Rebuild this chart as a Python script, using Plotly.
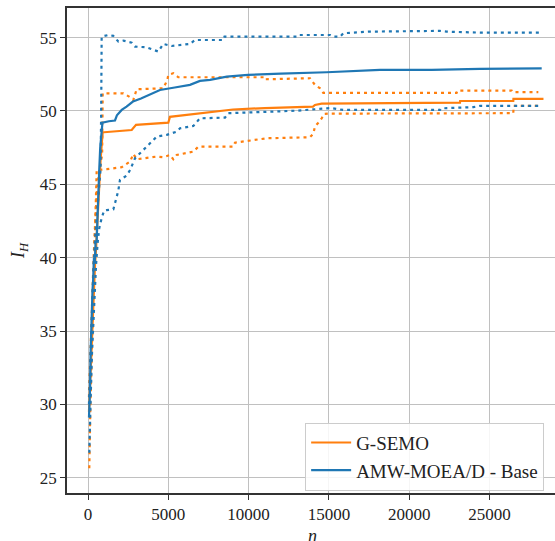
import plotly.graph_objects as go

# ---------------- data ----------------
gsemo_mean_x = [60, 100, 150, 200, 260, 320, 380, 440, 500, 560, 620, 700, 780, 860, 915,
                1000, 2720, 2990, 5000, 5100, 7600, 9030, 11000, 13820, 14010, 14130, 14550,
                23160, 23170, 26480, 26490, 28360]
gsemo_mean_y = [29.5, 30.6, 32.2, 34.0, 35.4, 37.0, 38.4, 39.6, 40.6, 42.0, 43.4, 45.0, 46.6, 47.8, 48.55,
                48.55, 48.7, 49.05, 49.2, 49.6, 49.9, 50.1, 50.2, 50.26, 50.3, 50.41, 50.5,
                50.57, 50.68, 50.68, 50.82, 50.82]

gsemo_max_x = [60, 150, 250, 350, 450, 550, 700, 880, 915, 2200, 2620, 2820, 3030, 4690, 4940,
               5000, 5310, 5620, 11000, 11020, 13820, 14130, 14450, 14650, 22950, 23000,
               26380, 26450, 28040]
gsemo_max_y = [30.5, 34.0, 37.5, 40.0, 42.5, 44.5, 46.0, 47.0, 51.2, 51.2, 50.94, 50.75, 51.48, 51.55, 52.12,
               52.46, 52.57, 52.3, 52.3, 52.16, 52.23, 51.78, 51.55, 51.23, 51.23, 51.39,
               51.39, 51.28, 51.28]

gsemo_min_x = [80, 100, 150, 200, 260, 320, 380, 440, 500, 540, 1160, 2100, 2620, 2820, 3030,
               4280, 4690, 5100, 5310, 5520, 6560, 6870, 9050, 9150, 11130, 13820, 14030,
               14130, 14340, 14550, 14700, 15000, 26480, 26500, 28040]
gsemo_min_y = [25.65, 27.6, 30.0, 32.0, 34.5, 36.5, 38.5, 40.5, 43.0, 45.98, 46.03, 46.17, 46.55, 47.07, 46.71,
               46.89, 46.85, 47.0, 46.71, 47.0, 47.23, 47.57, 47.57, 47.84, 48.14, 48.21, 48.45,
               48.93, 49.2, 49.5, 49.8, 49.82, 49.85, 50.35, 50.35]

amw_mean_x = [60, 100, 125, 160, 190, 230, 280, 320, 370, 420, 470, 540, 580, 640, 700, 760, 850,
              900, 1300, 1680, 1800, 2100, 2400, 2800, 3300, 3860, 4480, 5400, 6350, 6970, 7600,
              8640, 9960, 12000, 14860, 18180, 21400, 24400, 28250]
amw_mean_y = [29.1, 29.8, 31.0, 33.5, 35.0, 36.5, 37.8, 38.5, 40.0, 39.6, 41.0, 41.2, 42.8, 45.1, 46.0, 47.5, 48.7,
              49.2, 49.3, 49.35, 49.7, 50.07, 50.3, 50.64, 50.85, 51.1, 51.43, 51.6, 51.78, 52.05, 52.12,
              52.34, 52.46, 52.55, 52.64, 52.8, 52.8, 52.87, 52.91]

amw_max_x = [60, 150, 250, 350, 450, 550, 650, 780, 820, 850, 1265, 1575, 1890, 2200, 2720, 2930,
             3650, 3970, 4380, 4690, 5210, 6350, 6660, 8430, 8500, 13000, 13100, 15070, 15260,
             15700, 15900, 17500, 21920, 22330, 24410, 28140]
amw_max_y = [30.0, 33.5, 36.5, 39.5, 41.5, 43.0, 44.5, 46.0, 50.0, 55.07, 55.18, 55.12, 54.73, 54.8, 54.66, 54.39,
             54.34, 54.2, 54.05, 54.57, 54.43, 54.57, 54.84, 54.84, 55.07, 55.07, 55.18, 55.18, 55.07,
             55.07, 55.3, 55.41, 55.46, 55.41, 55.34, 55.34]

amw_min_x = [80, 120, 180, 250, 330, 420, 500, 600, 700, 850, 1000, 1160, 1580, 1790, 1890, 1990,
             2410, 2620, 2930, 3130, 3750, 4280, 4900, 5520, 5730, 6560, 6970, 8530, 8740, 13000,
             14860, 15100, 15900, 21920, 22000, 24000, 24410, 28140]
amw_min_y = [26.7, 29.0, 31.0, 33.5, 35.5, 37.5, 39.5, 41.0, 42.0, 42.7, 43.2, 43.24, 43.3, 44.16, 44.6, 45.3,
             45.6, 45.98, 46.78, 47.0, 47.69, 48.25, 48.37, 48.59, 48.82, 48.98, 49.5, 49.55, 49.85, 50.02,
             50.18, 50.2, 50.07, 50.07, 50.18, 50.26, 50.35, 50.35]

x_ticks = [0, 5000, 10000, 15000, 20000, 25000]
y_ticks = [25, 30, 35, 40, 45, 50, 55]
series_names = ["G-SEMO", "AMW-MOEA/D - Base"]
x_label = "<i>n</i>"
y_label = "<i>I</i><sub><i>H</i></sub>"

# ---------------- styling ----------------
ORANGE = "#ff7f0e"
BLUE = "#1f77b4"
FONT = "Liberation Serif"
DOT = "3px,4px"

fig = go.Figure()

def add(x, y, color, dash, name=None, legend=False):
    fig.add_trace(go.Scatter(
        x=x, y=y, mode="lines", name=name, showlegend=legend,
        line=dict(color=color, width=2.2, dash=dash),
        hoverinfo="skip",
    ))

add(gsemo_mean_x, gsemo_mean_y, ORANGE, "solid", series_names[0], True)
add(gsemo_max_x, gsemo_max_y, ORANGE, DOT)
add(gsemo_min_x, gsemo_min_y, ORANGE, DOT)
add(amw_mean_x, amw_mean_y, BLUE, "solid", series_names[1], True)
add(amw_max_x, amw_max_y, BLUE, DOT)
add(amw_min_x, amw_min_y, BLUE, DOT)

axis_common = dict(
    showgrid=True, gridcolor="#c0c0c0", gridwidth=1.2,
    showline=True, linecolor="#333333", linewidth=1.6,
    ticks="outside", ticklen=5, tickwidth=1.4, tickcolor="#333333",
    zeroline=False, automargin=False,
    tickfont=dict(family=FONT, size=17, color="#222222"),
)

fig.update_layout(
    width=555, height=541,
    margin=dict(l=67, r=0, t=8, b=48, autoexpand=False),
    paper_bgcolor="white", plot_bgcolor="white",
    font=dict(family=FONT, size=17, color="#222222"),
    xaxis=dict(
        range=[-1308, 29078], tickvals=x_ticks, ticktext=[str(v) for v in x_ticks],
        mirror=True,
        **axis_common,
    ),
    yaxis=dict(
        range=[23.957, 57.02], tickvals=y_ticks, ticktext=[str(v) for v in y_ticks],
        title=dict(text=y_label, standoff=10, font=dict(family=FONT, size=18)),
        **axis_common,
    ),
    legend=dict(
        x=0.488, y=0.075, xanchor="left", yanchor="middle",
        bgcolor="rgba(255,255,255,0.85)", bordercolor="#cccccc", borderwidth=1,
        font=dict(family=FONT, size=19, color="#222222"),
        itemwidth=40, tracegroupgap=0,
    ),
    annotations=[dict(
        text=x_label, xref="paper", yref="paper", x=0.504, y=-0.088,
        xanchor="center", yanchor="middle", showarrow=False,
        font=dict(family=FONT, size=18, color="#222222"),
    )],
)

fig.write_html(
    "out.html",
    config={"displayModeBar": False},
    post_script="document.body.style.margin='0';document.body.style.overflow='hidden';",
)
